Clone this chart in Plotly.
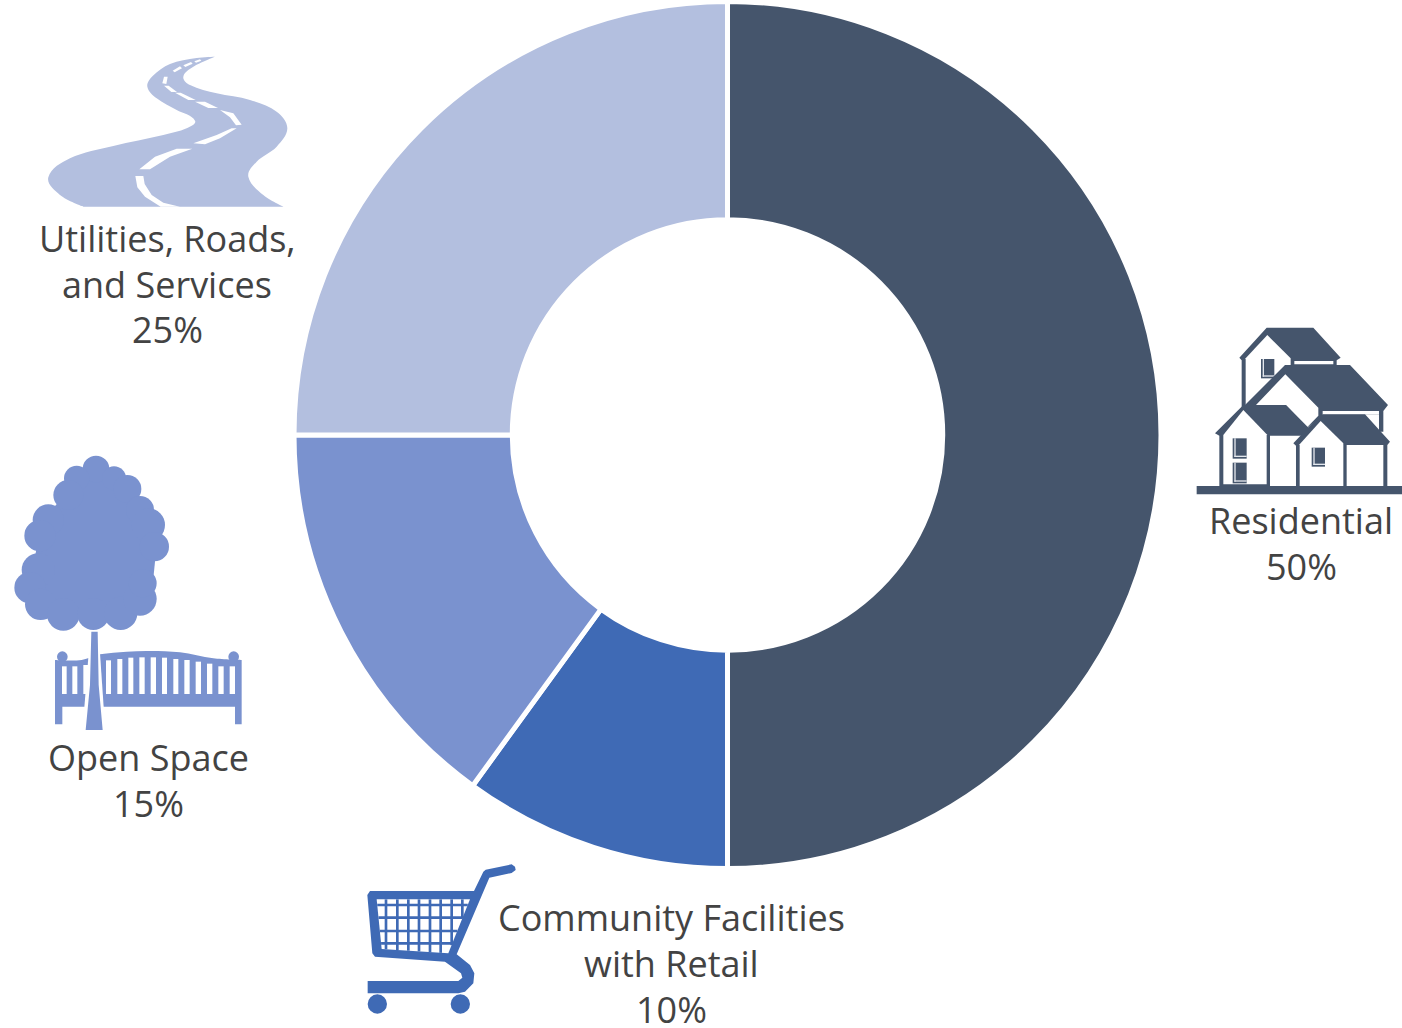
import math
import plotly.graph_objects as go

# Land-use shares
categories = [["Residential"], ["Community Facilities", "with Retail"], ["Open Space"], ["Utilities, Roads,", "and Services"]]
shares = [50, 10, 15, 25]
slice_colors = ["#45556C", "#3F6AB5", "#7A92CF", "#B3BFDF"]
label_centers = [(1301, 520), (671, 917), (148, 757), (167, 238)]

WIDTH, HEIGHT = 1402, 1028
TEXT_COLOR = "#434343"
LINE_STEP = 46
DARK, BLUE, MID, LIGHT = slice_colors


def px(x, y):
    return x / WIDTH, 1 - y / HEIGHT


def polygon(points, fill, ox=0, oy=0, scale=1.0):
    """Closed straight-edged icon outline, given in pixels from the page's top left."""
    coords = [px(ox + a * scale, oy + b * scale) for a, b in points]
    path = "M" + " L".join(f"{a:.5f},{b:.5f}" for a, b in coords) + " Z"
    return dict(type="path", xref="paper", yref="paper", path=path, fillcolor=fill, line=dict(width=0))


def smooth(points, fill, ox=0, oy=0, scale=1.0, corners=()):
    """Closed spline outline; indices listed in corners stay sharp."""
    pts = [(ox + a * scale, oy + b * scale) for a, b in points]
    n = len(pts)
    tangents = []
    for i in range(n):
        dx, dy = pts[(i + 1) % n][0] - pts[i - 1][0], pts[(i + 1) % n][1] - pts[i - 1][1]
        norm = math.hypot(dx, dy) or 1
        tangents.append((dx / norm, dy / norm))
    start = px(*pts[0])
    path = f"M{start[0]:.5f},{start[1]:.5f}"
    for i in range(n):
        j = (i + 1) % n
        h = math.dist(pts[i], pts[j]) / 3
        k1 = 0 if i in corners else h
        k2 = 0 if j in corners else h
        c1 = px(pts[i][0] + tangents[i][0] * k1, pts[i][1] + tangents[i][1] * k1)
        c2 = px(pts[j][0] - tangents[j][0] * k2, pts[j][1] - tangents[j][1] * k2)
        end = px(*pts[j])
        path += f" C{c1[0]:.5f},{c1[1]:.5f} {c2[0]:.5f},{c2[1]:.5f} {end[0]:.5f},{end[1]:.5f}"
    return dict(type="path", xref="paper", yref="paper", path=path + " Z", fillcolor=fill, line=dict(width=0))


def circle(cx, cy, r, fill, ox=0, oy=0, scale=1.0):
    x0, y0 = px(ox + (cx - r) * scale, oy + (cy - r) * scale)
    x1, y1 = px(ox + (cx + r) * scale, oy + (cy + r) * scale)
    return dict(type="circle", xref="paper", yref="paper", x0=x0, x1=x1, y0=y0, y1=y1,
                fillcolor=fill, line=dict(width=0))


def rect(a, b, c, d, fill, **kw):
    return polygon([(a, b), (c, b), (c, d), (a, d)], fill, **kw)


shapes = []

# Road icon
road = dict(ox=30, oy=40, scale=1 / 3)
shapes.append(smooth(
    [(555, 50), (500, 54), (420, 72), (368, 108), (352, 140), (380, 175), (440, 210), (495, 242),
     (470, 265), (400, 285), (250, 318), (120, 355), (55, 412), (90, 465), (160, 500), (760, 500),
     (700, 465), (655, 410), (680, 365), (740, 320), (772, 265), (740, 215), (660, 180), (560, 160),
     (480, 135), (460, 110), (490, 80)],
    LIGHT, corners=(0, 14, 15), **road))
for dash in [
    [(316, 408), (340, 408), (344, 432), (365, 465), (400, 488), (450, 500), (392, 500), (345, 470), (322, 442)],
    [(328, 388), (375, 350), (440, 326), (487, 326), (420, 350), (360, 388)],
    [(490, 310), (560, 285), (605, 265), (620, 265), (570, 295), (525, 313)],
    [(570, 210), (610, 220), (635, 254), (618, 256), (600, 232)],
    [(495, 185), (525, 185), (564, 204), (535, 204)],
    [(435, 158), (452, 158), (497, 180), (475, 180)],
    [(402, 137), (416, 137), (441, 156), (424, 156)],
    [(397, 130), (402, 110), (413, 110), (409, 132)],
    [(428, 92), (450, 79), (456, 85), (434, 97)],
    [(460, 76), (483, 66), (488, 71), (466, 81)],
    [(493, 64), (510, 58), (514, 62), (498, 68)],
]:
    shapes.append(polygon(dash, "#FFFFFF", **road))

# Houses icon, drawn back to front
house = dict(ox=1180, oy=315, scale=1 / 3)
def window(a, b, c, d):
    return [
        rect(a, b, c, d, DARK, **house),
        rect(a + 5, b, a + 9, d - 5, "#E4E8EE", **house),
        rect(a + 5, d - 9, c, d - 5, "#E4E8EE", **house),
    ]

shapes += [
    polygon([(178, 128), (260, 38), (400, 38), (482, 128), (470, 136), (470, 160), (330, 160), (197, 290), (185, 290), (185, 136)], DARK, **house),
    polygon([(197, 130), (262, 60), (332, 130), (332, 150), (197, 275)], "#FFFFFF", **house),
    rect(343, 138, 460, 148, "#FFFFFF", **house),
    *window(243, 132, 283, 190),
    polygon([(195, 270), (315, 150), (510, 150), (624, 270), (610, 288), (610, 350), (597, 350), (597, 298), (428, 298), (415, 310), (380, 340), (318, 270)], DARK, **house),
    polygon([(228, 270), (316, 178), (415, 278), (415, 302), (380, 338), (318, 270)], "#FFFFFF", **house),
    rect(428, 288, 597, 298, "#FFFFFF", **house),
    polygon([(105, 355), (190, 270), (318, 270), (387, 340), (378, 362), (270, 362), (270, 515), (118, 515), (118, 362)], DARK, **house),
    polygon([(130, 360), (190, 285), (260, 358), (260, 508), (130, 508)], "#FFFFFF", **house),
    *window(158, 370, 200, 431),
    *window(158, 443, 200, 505),
    polygon([(340, 385), (422, 298), (555, 298), (630, 380), (622, 390), (622, 515), (348, 515), (348, 392)], DARK, **house),
    polygon([(359, 388), (422, 318), (490, 385), (490, 515), (359, 515)], "#FFFFFF", **house),
    rect(500, 390, 610, 515, "#FFFFFF", **house),
    *window(395, 398, 435, 455),
    rect(50, 513, 666, 538, DARK, **house),
]

# Tree and bench icon
park = dict(ox=0, oy=445, scale=1 / 3)
shapes.append(smooth(
    [(165, 645), (245, 645), (300, 628), (380, 620), (450, 618), (540, 622), (640, 640), (725, 645),
     (725, 838), (705, 838), (705, 785), (187, 785), (187, 838), (165, 838)],
    MID, corners=(0, 7, 8, 9, 10, 11, 12, 13), **park))
for a, b, top in [(186, 200, 664), (217, 232, 664), (250, 264, 660), (318, 333, 646), (352, 367, 642),
                  (385, 400, 638), (418, 434, 637), (452, 468, 637), (486, 501, 638), (520, 535, 642),
                  (553, 569, 645), (587, 603, 650), (621, 637, 656), (655, 671, 664), (689, 705, 664)]:
    shapes.append(rect(a, top, b, 747, "#FFFFFF", **park))
shapes += [circle(187, 635, 16, MID, **park), circle(701, 635, 16, MID, **park)]
shapes.append(polygon([(266, 625), (300, 625), (312, 800), (252, 800)], "#FFFFFF", **park))
shapes.append(polygon([(274, 560), (293, 560), (296, 720), (308, 855), (257, 855), (270, 720)], MID, **park))
shapes.append(polygon([(150, 200), (230, 110), (290, 80), (390, 130), (440, 210), (470, 300), (460, 400), (440, 490),
                       (300, 530), (120, 490), (90, 420), (115, 280)], MID, **park))
for cx, cy, r in [(288, 72, 40), (230, 100, 38), (342, 100, 36), (382, 132, 42), (205, 150, 45), (420, 195, 42),
                  (145, 225, 47), (445, 240, 50), (120, 272, 47), (463, 305, 44), (115, 375, 50), (90, 428, 47),
                  (122, 478, 47), (190, 508, 49), (280, 507, 48), (362, 505, 50), (420, 462, 50), (428, 415, 42)]:
    shapes.append(circle(cx, cy, r, MID, **park))

# Shopping cart icon
cart = dict(ox=355, oy=855, scale=1 / 3)
shapes.append(polygon(
    [(470, 28), (480, 35), (482, 45), (470, 54), (403, 68), (305, 298), (345, 330), (358, 355), (355, 385),
     (330, 410), (310, 415), (38, 415), (38, 378), (310, 378), (322, 368), (318, 355), (270, 320), (60, 305),
     (52, 295), (37, 120), (45, 108), (357, 108), (385, 50), (392, 44)],
    BLUE, **cart))
shapes.append(polygon([(65, 133), (345, 133), (280, 295), (80, 282)], "#FFFFFF", **cart))
for y in [150, 188, 228, 265]:
    left, right = 65 + (y - 133) * 0.1, 345 - (y - 133) * 0.4
    shapes.append(rect(left, y - 4, right, y + 4, BLUE, **cart))
for x in [93, 127, 160, 192, 225, 257, 290, 322]:
    bottom = min(282 + (x - 80) * 0.065, 133 + (345 - x) / 0.4)
    shapes.append(rect(x - 4, 133, x + 4, bottom, BLUE, **cart))
shapes += [circle(67, 447, 29, BLUE, **cart), circle(316, 447, 29, BLUE, **cart)]

annotations = []
for name_lines, share, (cx, first_line) in zip(categories, shares, label_centers):
    for i, line in enumerate(name_lines + [f"{share}%"]):
        xp, yp = px(cx, first_line + i * LINE_STEP)
        annotations.append(dict(
            x=xp, y=yp, xref="paper", yref="paper", xanchor="center", yanchor="middle", showarrow=False,
            text=line, font=dict(family="Open Sans", size=36, color=TEXT_COLOR),
        ))

CX, CY, RADIUS = 727.5, 435, 433.5
x0, y0 = px(CX - RADIUS, CY + RADIUS)
x1, y1 = px(CX + RADIUS, CY - RADIUS)

fig = go.Figure(go.Pie(
    labels=[" ".join(c) for c in categories],
    values=shares,
    sort=False,
    direction="clockwise",
    rotation=0,
    hole=0.4965,
    textinfo="none",
    marker=dict(colors=slice_colors, line=dict(color="#FFFFFF", width=5)),
    domain=dict(x=[x0, x1], y=[y0, y1]),
    showlegend=False,
))
fig.update_layout(
    width=WIDTH, height=HEIGHT, margin=dict(l=0, r=0, t=0, b=0),
    paper_bgcolor="#FFFFFF", shapes=shapes, annotations=annotations,
)
fig.write_html("out.html")
